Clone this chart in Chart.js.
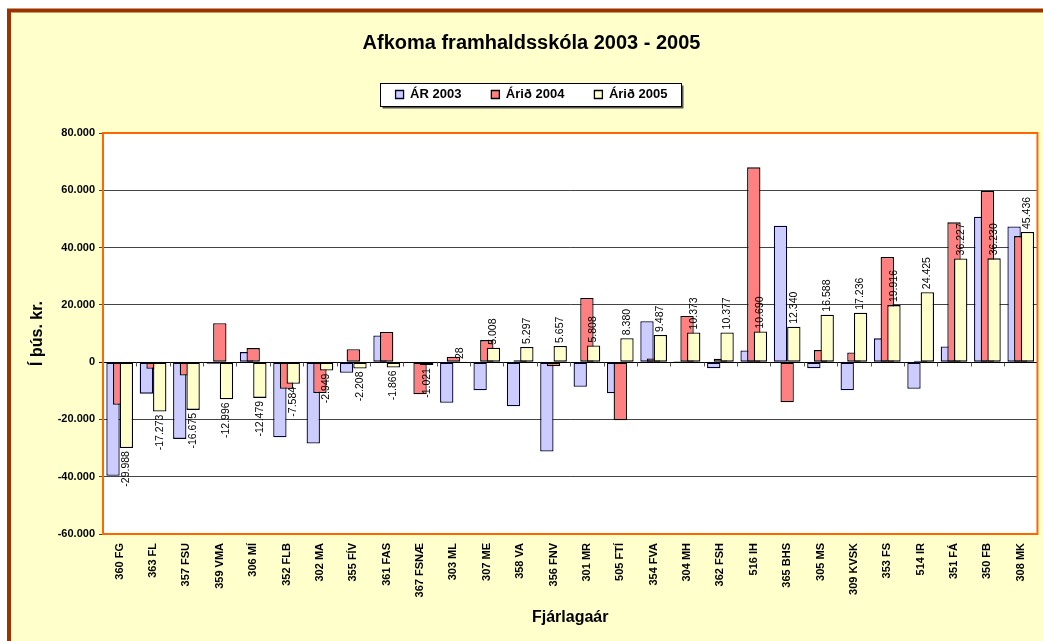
<!DOCTYPE html>
<html>
<head>
<meta charset="utf-8">
<script src="https://cdn.jsdelivr.net/npm/chart.js@4.4.1/dist/chart.umd.min.js"></script>
<style>
  html, body { margin: 0; padding: 0; background: #fff; }
  canvas { display: block; }
</style>
</head>
<body>
<canvas id="chart" width="1043" height="641"></canvas>
<script>
const categories = [
  "360 FG", "363 FL", "357 FSU", "359 VMA", "306 MÍ", "352 FLB", "302 MA",
  "355 FÍV", "361 FAS", "367 FSNÆ", "303 ML", "307 ME", "358 VA", "356 FNV",
  "301 MR", "505 FTÍ", "354 FVA", "304 MH", "362 FSH", "516 IH", "365 BHS",
  "305 MS", "309 KVSK", "353 FS", "514 IR", "351 FÁ", "350 FB", "308 MK"
];
const ar2003 = [
  -39700, -11000, -26800, -600, 3500, -26200, -28400, -3700, 9300, 0,
  -14200, -9800, -15400, -31200, -8600, -10900, 14300, 300, -2100, 4100,
  47600, -2100, -9800, 8300, -9300, 5500, 50800, 47400
];
const ar2004 = [
  -14900, -2300, -4700, 13600, 4900, -9300, -10800, 4500, 10500, -11200,
  1900, 7700, 700, -1400, 22400, -20300, 1300, 16100, 1200, 68000,
  -14000, 4200, 3400, 36700, 500, 48800, 59800, 44000
];
const ar2005 = [
  -29988, -17273, -16675, -12996, -12479, -7584, -2949, -2208, -1866, -1021,
  28, 5008, 5297, 5657, 5808, 8380, 9487, 10373, 10377, 10690,
  12340, 16588, 17236, 19916, 24425, 36227, 36230, 45436
];
const seriesNames = ["ÁR 2003", "Árið 2004", "Árið 2005"];
const yTicks = { min: -60000, max: 80000, step: 20000 };

const FONT = "'Liberation Sans', Arial, sans-serif";

// Icelandic style thousands separator: 29988 -> 29.988
function fmt(v) {
  const s = Math.abs(Math.round(v)).toString().replace(/\B(?=(\d{3})+(?!\d))/g, ".");
  return (v < 0 ? "-" : "") + s;
}

const framePlugin = {
  id: "frame",
  beforeDraw(chart) {
    const { ctx, width, height, chartArea: a } = chart;
    ctx.save();
    ctx.fillStyle = "#fff";
    ctx.fillRect(0, 0, width, height);
    ctx.fillStyle = "#FFFFCC";
    ctx.fillRect(9, 10, width - 9, height - 10);
    ctx.strokeStyle = "#993300";
    ctx.lineWidth = 4;
    ctx.beginPath();
    ctx.moveTo(9, height);
    ctx.lineTo(9, 10.5);
    ctx.lineTo(width, 10.5);
    ctx.stroke();
    // plot area
    ctx.fillStyle = "#fff";
    ctx.fillRect(a.left, a.top, a.right - a.left, a.bottom - a.top);
    // legend frame
    const hb = chart.legend.legendHitBoxes;
    if (hb && hb.length) {
      const first = hb[0], last = hb[hb.length - 1];
      const l = Math.round(first.left - 16) + 0.5;
      const r = Math.round(last.left + last.width + 14) + 0.5;
      const t = Math.round(first.top - 5) + 0.5;
      const b = Math.round(first.top + first.height + 5) + 0.5;
      ctx.fillStyle = "#555";
      ctx.fillRect(l + 2, t + 2, r - l, b - t);
      ctx.fillStyle = "#fff";
      ctx.fillRect(l, t, r - l, b - t);
      ctx.strokeStyle = "#000";
      ctx.lineWidth = 1;
      ctx.strokeRect(l, t, r - l, b - t);
    }
    ctx.restore();
  },
  beforeDatasetsDraw(chart) {
    const { ctx, chartArea: a, scales: { x, y } } = chart;
    const zero = Math.round(y.getPixelForValue(0)) + 0.5;
    // small category ticks on the zero line
    ctx.save();
    ctx.strokeStyle = "#555";
    ctx.lineWidth = 1;
    const n = categories.length;
    ctx.beginPath();
    for (let i = 1; i <= n; i++) {
      const px = Math.round(x.left + (i * (x.right - x.left)) / n) + 0.5;
      ctx.moveTo(px, zero);
      ctx.lineTo(px, zero + 4);
    }
    ctx.stroke();
    ctx.restore();

    // draw series in order so the later ones overlap the earlier ones
    ctx.save();
    ctx.beginPath();
    ctx.rect(a.left, a.top, a.right - a.left, a.bottom - a.top);
    ctx.clip();
    for (let i = 0; i < chart.data.datasets.length; i++) {
      chart.getDatasetMeta(i).controller.draw();
    }
    ctx.restore();

    // value labels for 2005
    const meta = chart.getDatasetMeta(2);
    ctx.save();
    ctx.fillStyle = "#000";
    ctx.font = "10.5px " + FONT;
    ctx.textBaseline = "middle";
    meta.data.forEach((bar, i) => {
      const v = ar2005[i];
      ctx.save();
      if (v >= 0) {
        ctx.translate(bar.x, bar.y - 3);
        ctx.rotate(-Math.PI / 2);
        ctx.textAlign = "left";
      } else {
        ctx.translate(bar.x, bar.y + 3);
        ctx.rotate(-Math.PI / 2);
        ctx.textAlign = "right";
      }
      ctx.fillText(fmt(v), 0, 0);
      ctx.restore();
    });
    ctx.restore();
    return false;
  },
  afterDraw(chart) {
    const { ctx, chartArea: a } = chart;
    ctx.save();
    ctx.strokeStyle = "#FF6600";
    ctx.lineWidth = 2;
    ctx.strokeRect(a.left, a.top, a.right - a.left, a.bottom - a.top);
    ctx.restore();
  }
};

const boldFont = (size) => ({ family: FONT, size, weight: "bold" });

new Chart(document.getElementById("chart"), {
  type: "bar",
  data: {
    labels: categories,
    datasets: [
      { label: seriesNames[0], data: ar2003, backgroundColor: "#CCCCFF", borderColor: "#000033" },
      { label: seriesNames[1], data: ar2004, backgroundColor: "#FF8080", borderColor: "#000000" },
      { label: seriesNames[2], data: ar2005, backgroundColor: "#FFFFCC", borderColor: "#000000" }
    ]
  },
  options: {
    responsive: false,
    animation: false,
    datasets: {
      bar: {
        categoryPercentage: 0.6,
        barPercentage: 2,
        borderWidth: 1.3,
        borderSkipped: false
      }
    },
    layout: { padding: { left: 22, right: 2, top: 0, bottom: 0 } },
    plugins: {
      title: {
        display: true,
        text: "Afkoma framhaldsskóla 2003 - 2005",
        color: "#000",
        font: boldFont(20),
        padding: { top: 31, bottom: 3 }
      },
      subtitle: {
        display: true,
        text: "",
        weight: 500,
        font: { size: 22, lineHeight: 1 },
        padding: 0
      },
      legend: {
        labels: {
          color: "#000",
          font: boldFont(13),
          boxWidth: 8,
          boxHeight: 8,
          padding: 30
        }
      },
      tooltip: { enabled: false }
    },
    scales: {
      x: {
        grid: { display: false, drawTicks: false },
        border: { display: false },
        ticks: {
          autoSkip: false,
          minRotation: 90,
          maxRotation: 90,
          padding: 9,
          color: "#000",
          font: boldFont(11)
        },
        title: {
          display: true,
          text: "Fjárlagaár",
          color: "#000",
          font: boldFont(16),
          padding: { top: 0, bottom: 14 }
        },
        afterFit(scale) { scale.height = 107; }
      },
      y: {
        min: yTicks.min,
        max: yTicks.max,
        border: { display: false },
        grid: {
          color: (c) => (c.tick && c.tick.value === 0 ? "#000" : "#444"),
          tickLength: 4
        },
        ticks: {
          stepSize: yTicks.step,
          padding: 4,
          color: "#000",
          font: boldFont(11),
          callback: (v) => fmt(v)
        },
        title: {
          display: true,
          text: "Í þús. kr.",
          color: "#000",
          font: boldFont(16),
          padding: { top: 6, bottom: 0 }
        },
        afterFit(scale) { scale.width = 81; }
      }
    }
  },
  plugins: [framePlugin]
});
</script>
</body>
</html>
